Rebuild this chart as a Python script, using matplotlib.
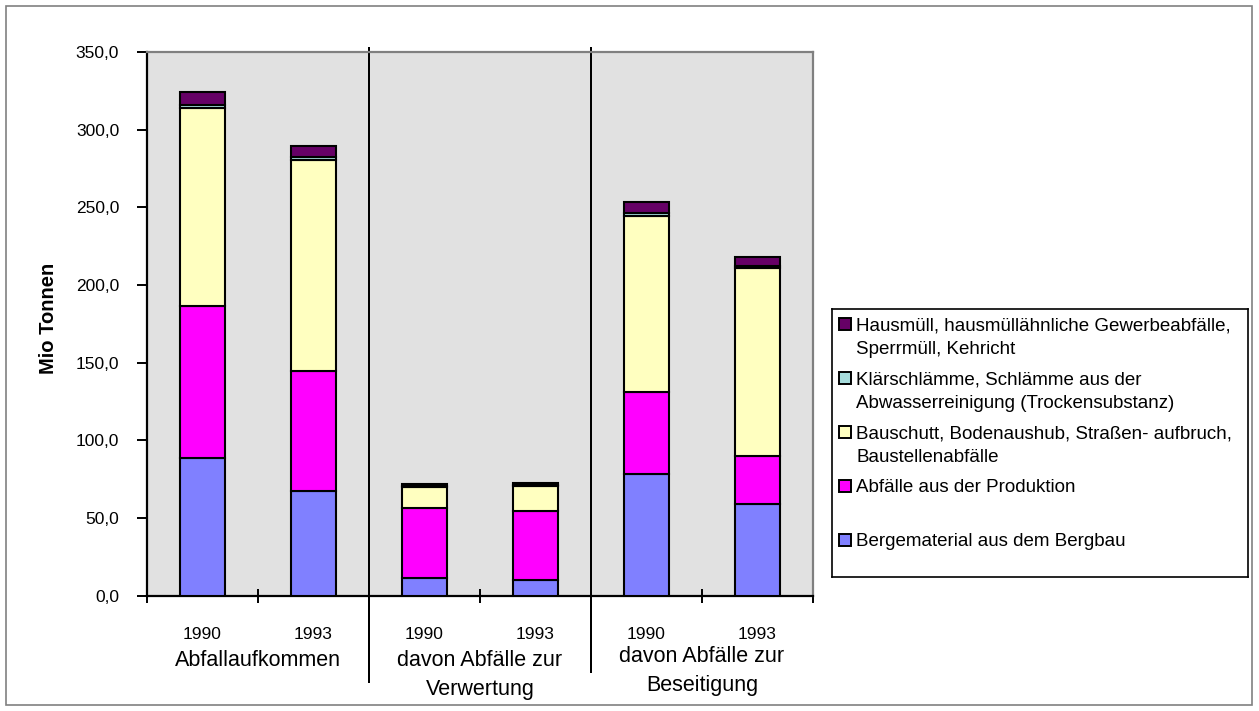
"""Abfallaufkommen, Verwertung und Beseitigung 1990/1993 als gestapelte Säulen."""

import matplotlib

matplotlib.use("Agg")

import matplotlib.pyplot as plt
import numpy as np
from matplotlib.patches import Rectangle
from matplotlib.ticker import FuncFormatter, MultipleLocator

plt.rcParams["font.family"] = ["Liberation Sans", "DejaVu Sans"]

years = ["1990", "1993", "1990", "1993", "1990", "1993"]
groups = ["Abfallaufkommen", "davon Abfälle zur\nVerwertung", "davon Abfälle zur\nBeseitigung"]

# Mio Tonnen, von unten nach oben gestapelt
bergematerial = [88.8, 67.6, 11.4, 9.7, 78.3, 58.8]
produktion = [97.6, 76.7, 44.8, 45.0, 52.8, 31.1]
bauschutt = [127.4, 136.3, 13.5, 15.9, 113.4, 120.7]
klaerschlamm = [2.2, 2.0, 0.5, 0.6, 2.0, 1.6]
hausmuell = [8.3, 7.0, 1.7, 1.5, 7.2, 5.5]

series = [bergematerial, produktion, bauschutt, klaerschlamm, hausmuell]
series_labels = [
    "Bergematerial aus dem Bergbau",
    "Abfälle aus der Produktion",
    "Bauschutt, Bodenaushub, Straßen- aufbruch,\nBaustellenabfälle",
    "Klärschlämme, Schlämme aus der\nAbwasserreinigung (Trockensubstanz)",
    "Hausmüll, hausmüllähnliche Gewerbeabfälle,\nSperrmüll, Kehricht",
]
colors = ["#8080FF", "#FF00FF", "#FFFFC0", "#A6DCDC", "#660066"]

W, H = 1259, 711
fig = plt.figure(figsize=(W / 100, H / 100), dpi=100)
fig.patches.append(
    Rectangle((6 / W, 6 / H), 1246 / W, 699 / H, transform=fig.transFigure,
              fill=False, edgecolor="#808080", linewidth=1.2)
)

ax = fig.add_axes([147 / W, 1 - 595.5 / H, 666 / W, 543.5 / H])
ax.set_facecolor("#E1E1E1")

x = np.arange(len(years))
bottom = np.zeros(len(years))
for values, color in zip(series, colors):
    ax.bar(x, values, 0.41, bottom=bottom, color=color, edgecolor="black", linewidth=1.5, zorder=3)
    bottom += np.array(values)

ax.set_xlim(-0.5, len(years) - 0.5)
ax.set_ylim(0, 350)
ax.yaxis.set_major_locator(MultipleLocator(50))
ax.yaxis.set_major_formatter(FuncFormatter(lambda v, _: f"{v:.1f}".replace(".", ",")))
ax.tick_params(axis="y", direction="out", length=7, width=1.4, labelsize=12.5, pad=13)

ax.set_xticks(x)
ax.set_xticklabels(years)
ax.set_xticks(np.arange(-0.5, len(years)), minor=True)
ax.tick_params(axis="x", which="major", length=0, labelsize=12.5, pad=23)
ax.tick_params(axis="x", which="minor", direction="inout", length=10, width=1.4)

for side in ("left", "bottom"):
    ax.spines[side].set_linewidth(1.6)
    ax.spines[side].set_color("black")
for side in ("top", "right"):
    ax.spines[side].set_linewidth(1.6)
    ax.spines[side].set_color("#808080")

ax.set_ylabel("Mio Tonnen", fontsize=14.5, fontweight="bold")
ax.yaxis.set_label_coords(-0.133, 0.51)

# Gruppenbeschriftungen und Trennlinien zwischen den Gruppen
for i, (label, text_drop) in enumerate(zip(groups, [54, 54, 51])):
    ax.annotate(label, xy=(2 * i + 0.5, 0), xycoords=("data", "axes fraction"),
                xytext=(0, -text_drop), textcoords="offset pixels",
                ha="center", va="top", fontsize=15.5, linespacing=1.5)

for i, sep_drop in zip([1, 2], [86, 76]):
    xs = 2 * i - 0.5
    ax.annotate("", xy=(xs, 1.0 + 4 / 543.5), xycoords=("data", "axes fraction"),
                xytext=(xs, -sep_drop / 543.5), textcoords=("data", "axes fraction"),
                arrowprops=dict(arrowstyle="-", color="black", linewidth=1.1,
                                shrinkA=0, shrinkB=0, antialiased=False), zorder=2)

# Legende als eigener Kasten rechts neben dem Diagramm
lax = fig.add_axes([832 / W, 1 - 577 / H, 416 / W, 268 / H])
lax.set_xlim(0, 416)
lax.set_ylim(268, 0)
lax.set_xticks([])
lax.set_yticks([])
for spine in lax.spines.values():
    spine.set_linewidth(1.2)
    spine.set_color("black")

for k, (label, color) in enumerate(zip(series_labels[::-1], colors[::-1])):
    y0 = 15 + 54 * k
    lax.add_patch(Rectangle((7, y0 - 6), 12, 12, facecolor=color, edgecolor="black", linewidth=1.4))
    for j, line in enumerate(label.split("\n")):
        lax.text(24, y0 + 24 * j, line, fontsize=13.5, va="center_baseline", ha="left")

fig.savefig("out.png", dpi=100, facecolor="white")
